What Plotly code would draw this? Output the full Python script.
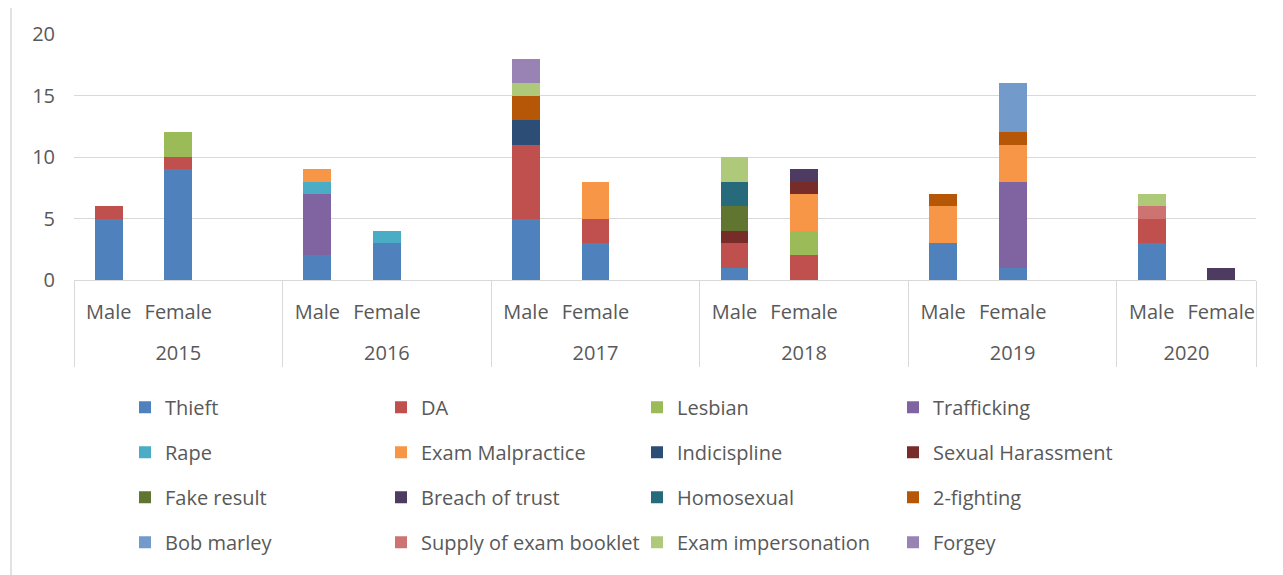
import plotly.graph_objects as go

# ---- data -------------------------------------------------------------
years = ["2015", "2016", "2017", "2018", "2019", "2020"]
genders = ["Male", "Female"]

# values per (year, gender): 2015 M, 2015 F, 2016 M, 2016 F, ... 2020 M, 2020 F
thieft =            [5, 9, 2, 3, 5, 3, 1, 0, 3, 1, 3, 0]
da =                [1, 1, 0, 0, 6, 2, 2, 2, 0, 0, 2, 0]
lesbian =           [0, 2, 0, 0, 0, 0, 0, 2, 0, 0, 0, 0]
trafficking =       [0, 0, 5, 0, 0, 0, 0, 0, 0, 7, 0, 0]
rape =              [0, 0, 1, 1, 0, 0, 0, 0, 0, 0, 0, 0]
exam_malpractice =  [0, 0, 1, 0, 0, 3, 0, 3, 3, 3, 0, 0]
indicispline =      [0, 0, 0, 0, 2, 0, 0, 0, 0, 0, 0, 0]
sexual_harassment = [0, 0, 0, 0, 0, 0, 1, 1, 0, 0, 0, 0]
fake_result =       [0, 0, 0, 0, 0, 0, 2, 0, 0, 0, 0, 0]
breach_of_trust =   [0, 0, 0, 0, 0, 0, 0, 1, 0, 0, 0, 1]
homosexual =        [0, 0, 0, 0, 0, 0, 2, 0, 0, 0, 0, 0]
two_fighting =      [0, 0, 0, 0, 2, 0, 0, 0, 1, 1, 0, 0]
bob_marley =        [0, 0, 0, 0, 0, 0, 0, 0, 0, 4, 0, 0]
supply_booklet =    [0, 0, 0, 0, 0, 0, 0, 0, 0, 0, 1, 0]
exam_imperson =     [0, 0, 0, 0, 1, 0, 2, 0, 0, 0, 1, 0]
forgey =            [0, 0, 0, 0, 2, 0, 0, 0, 0, 0, 0, 0]

series_names = ["Thieft", "DA", "Lesbian", "Trafficking", "Rape", "Exam Malpractice",
                "Indicispline", "Sexual Harassment", "Fake result", "Breach of trust",
                "Homosexual", "2-fighting", "Bob marley", "Supply of exam booklet",
                "Exam impersonation", "Forgey"]
series_values = [thieft, da, lesbian, trafficking, rape, exam_malpractice, indicispline,
                 sexual_harassment, fake_result, breach_of_trust, homosexual, two_fighting,
                 bob_marley, supply_booklet, exam_imperson, forgey]
colors = ["#4F81BD", "#C0504D", "#9BBB59", "#8064A2", "#4BACC6", "#F79646",
          "#2C4D75", "#772C2A", "#5F7530", "#4D3B62", "#276A7C", "#B65708",
          "#729ACA", "#CD7371", "#AFC97A", "#9983B5"]

# ---- build multicategory x (each year except the last has an empty third slot)
x_year, x_gender, idx_map = [], [], []
k = 0
for yi, yr in enumerate(years):
    ylab = "<br>" + yr
    for g in genders:
        x_year.append(ylab); x_gender.append(g); idx_map.append(k); k += 1
    if yi < len(years) - 1:
        x_year.append(ylab); x_gender.append(" " * (yi + 1)); idx_map.append(None)

FONT = "Open Sans"
FS = 20
TXT = "#595959"
GRID = "#D9D9D9"

fig = go.Figure()
for i, (name, vals) in enumerate(zip(series_names, series_values)):
    yv = [vals[j] if j is not None else 0 for j in idx_map]
    fig.add_trace(go.Bar(
        x=[x_year, x_gender], y=yv, name=name,
        marker=dict(color=colors[i], line=dict(width=0)),
        legend=["legend", "legend2", "legend3", "legend4"][i % 4],
        legendgroup=name,
    ))

# page body has an 8px margin: the figure is drawn 8px smaller and offset
OFF = 8
L0, PW, PH = 74, 1182, 246   # plot area left (screen px), width, height
leg_common = dict(orientation="v", font=dict(family=FONT, size=FS, color=TXT),
                  bgcolor="rgba(0,0,0,0)", traceorder="grouped", tracegroupgap=16,
                  itemwidth=30, yanchor="top", xanchor="left", y=-0.4375)
col_x = [144, 400, 656, 912]
legs = {}
for c, key in enumerate(["legend", "legend2", "legend3", "legend4"]):
    legs[key] = dict(leg_common, x=(col_x[c] - 19 - L0) / PW)

fig.update_layout(
    width=1283 - OFF, height=575 - OFF,
    margin=dict(l=L0 - OFF, r=27, t=34 - OFF, b=295, autoexpand=False),
    barmode="stack", bargap=0.6,
    paper_bgcolor="white", plot_bgcolor="white",
    font=dict(family=FONT, size=FS, color=TXT),
    showlegend=True,
    xaxis=dict(type="multicategory", showline=True, linecolor=GRID, linewidth=1,
               showdividers=True, dividercolor=GRID, dividerwidth=1,
               tickfont=dict(family=FONT, size=FS, color=TXT), ticks="",
               tickangle=0, ticklabelstandoff=14, showgrid=False, automargin=False),
    yaxis=dict(range=[0, 20], dtick=5, showgrid=True, gridcolor=GRID, gridwidth=1,
               zeroline=False, showline=False, ticks="", ticklabelstandoff=18,
               automargin=False,
               tickfont=dict(family=FONT, size=FS, color=TXT)),
    shapes=[dict(type="rect", xref="paper", yref="paper",
                 x0=(11 - L0) / PW, x1=(1300 - L0) / PW,
                 y0=(280 - 590) / PH, y1=(280 - 5) / PH,
                 line=dict(color=GRID, width=1.5), fillcolor="rgba(0,0,0,0)", layer="below")],
    **legs,
)

fig.write_html("out.html")
